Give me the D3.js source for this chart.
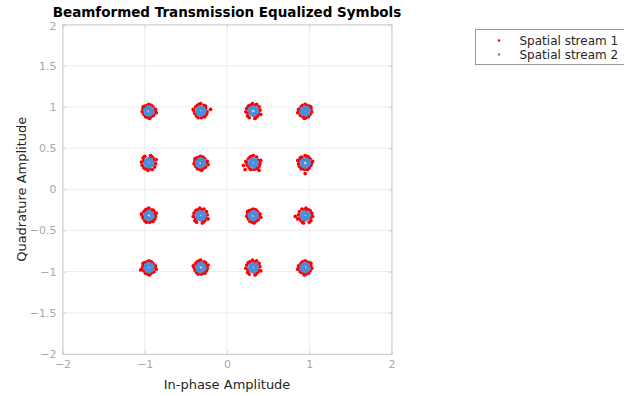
<!DOCTYPE html>
<html>
<head>
<meta charset="utf-8">
<script src="https://cdn.jsdelivr.net/npm/d3@7"></script>
<style>
  html, body { margin: 0; padding: 0; background: #fff; }
  svg { display: block; font-family: "DejaVu Sans", sans-serif; }
</style>
</head>
<body>
<svg id="chart" width="624" height="396"></svg>
<script>
// Equalized 16-QAM symbols, [in-phase, quadrature], per spatial stream
const stream1 = [
  // (-0.95, 0.95)
  [-1.02,0.97],[-0.88,0.95],[-0.95,1.03],[-0.96,0.87],[-1.01,0.91],[-0.90,1.00],[-0.89,0.90],[-1.00,1.01],[-0.93,0.88],[-0.97,1.02],
  [-1.03,0.94],[-0.87,0.97],[-0.92,1.02],[-0.99,0.88],[-0.86,0.93],[-1.02,1.00],[-0.94,0.86],[-0.91,0.89],[-0.98,0.99],[-0.93,0.96],
  // (-0.32, 0.95)
  [-0.40,0.95],[-0.26,0.98],[-0.31,0.87],[-0.34,1.03],[-0.25,0.91],[-0.37,0.89],[-0.28,1.02],[-0.38,1.00],[-0.24,0.94],[-0.29,0.89],
  [-0.35,0.87],[-0.32,1.04],[-0.39,0.92],[-0.27,0.88],[-0.20,0.97],[-0.36,1.02],[-0.26,1.01],[-0.41,0.97],[-0.30,0.99],[-0.33,0.92],
  // (0.32, 0.95)
  [0.26,0.92],[0.39,1.00],[0.31,1.04],[0.35,0.87],[0.24,0.98],[0.38,0.92],[0.28,1.02],[0.37,0.89],[0.25,0.89],[0.33,1.02],
  [0.40,0.96],[0.27,0.87],[0.36,1.03],[0.23,0.94],[0.34,0.86],[0.30,1.00],[0.41,0.91],[0.26,1.01],[0.32,0.90],[0.35,0.98],
  // (0.95, 0.95)
  [1.02,0.97],[0.88,0.95],[0.95,1.03],[0.96,0.87],[1.01,0.91],[0.90,1.00],[0.89,0.90],[1.00,1.01],[0.93,0.88],[0.97,1.02],
  [1.03,0.94],[0.87,0.97],[0.92,1.02],[0.99,0.88],[0.86,0.93],[1.02,1.00],[0.94,0.86],[0.91,0.89],[0.98,0.99],[0.93,0.96],
  // (-0.95, 0.32)
  [-1.01,0.35],[-0.88,0.27],[-0.96,0.23],[-0.92,0.40],[-1.03,0.29],[-0.89,0.35],[-0.99,0.25],[-0.90,0.38],[-1.02,0.38],[-0.94,0.25],
  [-0.87,0.31],[-1.00,0.40],[-0.91,0.24],[-1.04,0.33],[-0.93,0.41],[-0.97,0.27],[-0.86,0.36],[-1.01,0.26],[-0.95,0.37],[-0.92,0.29],
  // (-0.32, 0.32)
  [-0.39,0.34],[-0.25,0.32],[-0.32,0.40],[-0.33,0.24],[-0.38,0.28],[-0.27,0.37],[-0.26,0.27],[-0.37,0.38],[-0.30,0.25],[-0.34,0.39],
  [-0.40,0.31],[-0.24,0.34],[-0.29,0.39],[-0.36,0.25],[-0.23,0.30],[-0.39,0.37],[-0.31,0.23],[-0.28,0.26],[-0.35,0.36],[-0.30,0.33],
  // (0.32, 0.32)
  [0.24,0.32],[0.38,0.35],[0.33,0.24],[0.30,0.40],[0.39,0.28],[0.27,0.26],[0.36,0.39],[0.26,0.37],[0.40,0.31],[0.35,0.26],
  [0.29,0.24],[0.32,0.41],[0.25,0.29],[0.37,0.25],[0.41,0.35],[0.28,0.39],[0.20,0.29],[0.22,0.24],[0.39,0.23],[0.23,0.34],
  // (0.95, 0.32)
  [1.03,0.32],[0.89,0.35],[0.94,0.24],[0.97,0.40],[0.88,0.28],[1.00,0.26],[0.91,0.39],[1.01,0.37],[0.87,0.31],[0.92,0.26],
  [0.98,0.24],[0.95,0.41],[1.02,0.29],[0.90,0.25],[0.86,0.35],[0.99,0.39],[0.89,0.38],[1.04,0.34],[0.93,0.36],[0.95,0.19],
  // (-0.95, -0.32)
  [-1.03,-0.32],[-0.89,-0.29],[-0.94,-0.40],[-0.97,-0.24],[-0.88,-0.36],[-1.00,-0.38],[-0.91,-0.25],[-1.01,-0.27],[-0.87,-0.33],[-0.92,-0.38],
  [-0.98,-0.40],[-0.95,-0.23],[-1.02,-0.35],[-0.90,-0.39],[-0.86,-0.29],[-0.99,-0.25],[-0.89,-0.26],[-1.04,-0.30],[-0.93,-0.28],[-0.96,-0.35],
  // (-0.32, -0.32)
  [-0.38,-0.35],[-0.25,-0.27],[-0.33,-0.23],[-0.29,-0.40],[-0.40,-0.29],[-0.26,-0.35],[-0.36,-0.25],[-0.27,-0.38],[-0.39,-0.38],[-0.31,-0.25],
  [-0.24,-0.31],[-0.37,-0.40],[-0.28,-0.24],[-0.41,-0.33],[-0.30,-0.41],[-0.34,-0.27],[-0.23,-0.36],[-0.38,-0.26],[-0.32,-0.37],[-0.29,-0.29],
  // (0.32, -0.32)
  [0.25,-0.30],[0.39,-0.32],[0.32,-0.24],[0.31,-0.40],[0.26,-0.36],[0.37,-0.27],[0.38,-0.37],[0.27,-0.26],[0.34,-0.39],[0.30,-0.25],
  [0.24,-0.33],[0.40,-0.30],[0.35,-0.25],[0.28,-0.39],[0.41,-0.34],[0.25,-0.27],[0.33,-0.41],[0.36,-0.38],[0.29,-0.28],[0.34,-0.31],
  // (0.95, -0.32)
  [1.01,-0.35],[0.88,-0.27],[0.96,-0.23],[0.92,-0.40],[1.03,-0.29],[0.89,-0.35],[0.99,-0.25],[0.90,-0.38],[1.02,-0.38],[0.94,-0.25],
  [0.87,-0.31],[1.00,-0.40],[0.91,-0.24],[1.04,-0.33],[0.93,-0.41],[0.97,-0.27],[0.86,-0.36],[1.01,-0.26],[0.95,-0.37],[0.83,-0.33],
  // (-0.95, -0.95)
  [-1.02,-0.93],[-0.88,-0.95],[-0.95,-0.87],[-0.96,-1.03],[-1.01,-0.99],[-0.90,-0.90],[-0.89,-1.00],[-1.00,-0.89],[-0.93,-1.02],[-0.97,-0.88],
  [-1.03,-0.96],[-0.87,-0.93],[-0.92,-0.88],[-0.99,-1.02],[-0.86,-0.97],[-1.02,-0.90],[-0.94,-1.04],[-0.91,-1.01],[-0.98,-0.91],[-1.05,-0.98],
  // (-0.32, -0.95)
  [-0.40,-0.95],[-0.26,-0.92],[-0.31,-1.03],[-0.34,-0.87],[-0.25,-0.99],[-0.37,-1.01],[-0.28,-0.88],[-0.38,-0.90],[-0.24,-0.96],[-0.29,-1.01],
  [-0.35,-1.03],[-0.32,-0.86],[-0.39,-0.98],[-0.27,-1.02],[-0.23,-0.92],[-0.36,-0.88],[-0.26,-0.89],[-0.41,-0.93],[-0.30,-0.91],[-0.33,-0.98],
  // (0.32, -0.95)
  [0.26,-0.98],[0.39,-0.90],[0.31,-0.86],[0.35,-1.03],[0.24,-0.92],[0.38,-0.98],[0.28,-0.88],[0.37,-1.01],[0.25,-1.01],[0.33,-0.88],
  [0.40,-0.94],[0.27,-1.03],[0.36,-0.87],[0.23,-0.96],[0.34,-1.04],[0.30,-0.90],[0.41,-0.99],[0.26,-0.89],[0.32,-1.00],[0.35,-0.92],
  // (0.95, -0.95)
  [1.02,-0.93],[0.88,-0.95],[0.95,-0.87],[0.96,-1.03],[1.01,-0.99],[0.90,-0.90],[0.89,-1.00],[1.00,-0.89],[0.93,-1.02],[0.97,-0.88],
  [1.03,-0.96],[0.87,-0.93],[0.92,-0.88],[0.99,-1.02],[0.86,-0.97],[1.02,-0.90],[0.94,-1.04],[0.91,-1.01],[0.98,-0.91],[0.93,-0.96]
];

const stream2 = [
  [-0.99,0.92],[-0.97,0.91],[-0.93,0.91],[-0.91,0.93],[-0.91,0.98],[-0.93,0.99],[-0.97,0.99],[-0.99,0.97],
  [-0.98,0.94],[-0.92,0.96],[-0.96,0.98],[-0.94,0.92],[-1.00,0.96],[-0.90,0.94],[-0.95,1.00],[-0.95,0.90],
  [-0.35,0.91],[-0.31,0.90],[-0.28,0.92],[-0.27,0.96],[-0.29,0.99],[-0.33,1.00],[-0.36,0.98],[-0.37,0.94],
  [-0.34,0.93],[-0.30,0.97],[-0.34,0.97],[-0.30,0.93],[-0.32,0.92],[-0.29,0.94],[-0.35,0.96],[-0.31,0.98],
  [0.28,0.92],[0.30,0.91],[0.34,0.91],[0.36,0.93],[0.36,0.98],[0.34,0.99],[0.30,0.99],[0.28,0.97],
  [0.29,0.94],[0.35,0.96],[0.31,0.98],[0.33,0.92],[0.27,0.96],[0.37,0.94],[0.32,1.00],[0.32,0.90],
  [0.92,0.91],[0.96,0.90],[0.99,0.92],[1.00,0.96],[0.98,0.99],[0.94,1.00],[0.91,0.98],[0.90,0.94],
  [0.93,0.93],[0.97,0.97],[0.93,0.97],[0.97,0.93],[0.95,0.92],[0.98,0.94],[0.92,0.96],[0.96,0.98],
  [-0.98,0.28],[-0.94,0.27],[-0.91,0.29],[-0.90,0.33],[-0.92,0.36],[-0.96,0.37],[-0.99,0.35],[-1.00,0.31],
  [-0.97,0.30],[-0.93,0.34],[-0.97,0.34],[-0.93,0.30],[-0.95,0.29],[-0.92,0.31],[-0.98,0.33],[-0.94,0.35],
  [-0.36,0.29],[-0.34,0.28],[-0.30,0.28],[-0.28,0.30],[-0.28,0.35],[-0.30,0.36],[-0.34,0.36],[-0.36,0.34],
  [-0.35,0.31],[-0.29,0.33],[-0.33,0.35],[-0.31,0.29],[-0.37,0.33],[-0.27,0.31],[-0.32,0.37],[-0.32,0.27],
  [0.29,0.28],[0.33,0.27],[0.36,0.29],[0.37,0.33],[0.35,0.36],[0.31,0.37],[0.28,0.35],[0.27,0.31],
  [0.30,0.30],[0.34,0.34],[0.30,0.34],[0.34,0.30],[0.32,0.29],[0.35,0.31],[0.29,0.33],[0.33,0.35],
  [0.91,0.29],[0.93,0.28],[0.97,0.28],[0.99,0.30],[0.99,0.35],[0.97,0.36],[0.93,0.36],[0.91,0.34],
  [0.92,0.31],[0.98,0.33],[0.94,0.35],[0.96,0.29],[0.90,0.33],[1.00,0.31],[0.95,0.37],[0.95,0.27],
  [-0.99,-0.35],[-0.97,-0.36],[-0.93,-0.36],[-0.91,-0.34],[-0.91,-0.29],[-0.93,-0.28],[-0.97,-0.28],[-0.99,-0.30],
  [-0.98,-0.33],[-0.92,-0.31],[-0.96,-0.29],[-0.94,-0.35],[-1.00,-0.31],[-0.90,-0.33],[-0.95,-0.27],[-0.95,-0.37],
  [-0.35,-0.36],[-0.31,-0.37],[-0.28,-0.35],[-0.27,-0.31],[-0.29,-0.28],[-0.33,-0.27],[-0.36,-0.29],[-0.37,-0.33],
  [-0.34,-0.34],[-0.30,-0.30],[-0.34,-0.30],[-0.30,-0.34],[-0.32,-0.35],[-0.29,-0.33],[-0.35,-0.31],[-0.31,-0.29],
  [0.28,-0.35],[0.30,-0.36],[0.34,-0.36],[0.36,-0.34],[0.36,-0.29],[0.34,-0.28],[0.30,-0.28],[0.28,-0.30],
  [0.29,-0.33],[0.35,-0.31],[0.31,-0.29],[0.33,-0.35],[0.27,-0.31],[0.37,-0.33],[0.32,-0.27],[0.32,-0.37],
  [0.92,-0.36],[0.96,-0.37],[0.99,-0.35],[1.00,-0.31],[0.98,-0.28],[0.94,-0.27],[0.91,-0.29],[0.90,-0.33],
  [0.93,-0.34],[0.97,-0.30],[0.93,-0.30],[0.97,-0.34],[0.95,-0.35],[0.98,-0.33],[0.92,-0.31],[0.96,-0.29],
  [-0.98,-0.99],[-0.94,-1.00],[-0.91,-0.98],[-0.90,-0.94],[-0.92,-0.91],[-0.96,-0.90],[-0.99,-0.92],[-1.00,-0.96],
  [-0.97,-0.97],[-0.93,-0.93],[-0.97,-0.93],[-0.93,-0.97],[-0.95,-0.98],[-0.92,-0.96],[-0.98,-0.94],[-0.94,-0.92],
  [-0.36,-0.98],[-0.34,-0.99],[-0.30,-0.99],[-0.28,-0.97],[-0.28,-0.92],[-0.30,-0.91],[-0.34,-0.91],[-0.36,-0.93],
  [-0.35,-0.96],[-0.29,-0.94],[-0.33,-0.92],[-0.31,-0.98],[-0.37,-0.94],[-0.27,-0.96],[-0.32,-0.90],[-0.32,-1.00],
  [0.29,-0.99],[0.33,-1.00],[0.36,-0.98],[0.37,-0.94],[0.35,-0.91],[0.31,-0.90],[0.28,-0.92],[0.27,-0.96],
  [0.30,-0.97],[0.34,-0.93],[0.30,-0.93],[0.34,-0.97],[0.32,-0.98],[0.35,-0.96],[0.29,-0.94],[0.33,-0.92],
  [0.91,-0.98],[0.93,-0.99],[0.97,-0.99],[0.99,-0.97],[0.99,-0.92],[0.97,-0.91],[0.93,-0.91],[0.91,-0.93],
  [0.92,-0.96],[0.98,-0.94],[0.94,-0.92],[0.96,-0.98],[0.90,-0.94],[1.00,-0.96],[0.95,-0.90],[0.95,-1.00]
];

const seriesNames = ["Spatial stream 1", "Spatial stream 2"];
const seriesColors = ["#ff0000", "#4a8fdc"];
const xTicks = [-2, -1, 0, 1, 2];
const yTicks = [-2, -1.5, -1, -0.5, 0, 0.5, 1, 1.5, 2];
const titleText = "Beamformed Transmission Equalized Symbols";
const xLabel = "In-phase Amplitude";
const yLabel = "Quadrature Amplitude";

const svg = d3.select("#chart");
const plot = { left: 62.5, right: 391.5, top: 24.5, bottom: 354 };

const x = d3.scaleLinear().domain([-2, 2]).range([plot.left, plot.right]);
const y = d3.scaleLinear().domain([-2, 2]).range([plot.bottom, plot.top]);

const tickColor = "#a8a8a8";
const gridColor = "#ececec";
const boxColor = "#cdcdcd";

// grid
const grid = svg.append("g");
grid.selectAll("line.gx").data(xTicks).join("line")
  .attr("x1", d => x(d)).attr("x2", d => x(d))
  .attr("y1", plot.top).attr("y2", plot.bottom)
  .attr("stroke", gridColor).attr("stroke-width", 1);
grid.selectAll("line.gy").data(yTicks).join("line")
  .attr("y1", d => y(d)).attr("y2", d => y(d))
  .attr("x1", plot.left).attr("x2", plot.right)
  .attr("stroke", gridColor).attr("stroke-width", 1);

// points: stream 1 underneath, stream 2 on top
const pts = svg.append("g");
[stream1, stream2].forEach((data, i) => {
  pts.append("g").selectAll("circle").data(data).join("circle")
    .attr("cx", d => x(d[0])).attr("cy", d => y(d[1]))
    .attr("r", 1.85)
    .attr("fill", seriesColors[i]);
});

// axes
const xAxis = svg.append("g")
  .attr("transform", `translate(0,${plot.bottom})`)
  .call(d3.axisBottom(x).tickValues(xTicks).tickSize(-3).tickPadding(6).tickFormat(d3.format("")));
const yAxis = svg.append("g")
  .attr("transform", `translate(${plot.left},0)`)
  .call(d3.axisLeft(y).tickValues(yTicks).tickSize(-3).tickPadding(6).tickFormat(d3.format("")));
const xAxisTop = svg.append("g")
  .attr("transform", `translate(0,${plot.top})`)
  .call(d3.axisTop(x).tickValues(xTicks).tickSize(-3).tickFormat(""));
const yAxisRight = svg.append("g")
  .attr("transform", `translate(${plot.right},0)`)
  .call(d3.axisRight(y).tickValues(yTicks).tickSize(-3).tickFormat(""));

[xAxis, yAxis, xAxisTop, yAxisRight].forEach(a => {
  a.select(".domain").attr("stroke", boxColor);
  a.selectAll(".tick line").attr("stroke", boxColor);
  a.selectAll(".tick text")
    .attr("fill", tickColor)
    .style("font-family", "DejaVu Sans, sans-serif")
    .style("font-size", "11px");
});
// the top y label sits just under the title
yAxis.selectAll(".tick text").filter(d => d === 2).attr("dy", "0.45em");

// title and axis labels
svg.append("text")
  .attr("x", (plot.left + plot.right) / 2).attr("y", 17)
  .attr("text-anchor", "middle")
  .style("font-weight", "bold").style("font-size", "13.5px")
  .attr("fill", "#000")
  .text(titleText);

svg.append("text")
  .attr("x", (plot.left + plot.right) / 2).attr("y", 389)
  .attr("text-anchor", "middle")
  .style("font-size", "13px")
  .attr("fill", "#262626")
  .text(xLabel);

svg.append("text")
  .attr("transform", `translate(26,${(plot.top + plot.bottom) / 2}) rotate(-90)`)
  .attr("text-anchor", "middle")
  .style("font-size", "13px")
  .attr("fill", "#262626")
  .text(yLabel);

// legend
const legend = svg.append("g").attr("transform", "translate(475.5,29.5)");
legend.append("rect")
  .attr("width", 152).attr("height", 35)
  .attr("fill", "#fff").attr("stroke", "#9a9a9a").attr("stroke-width", 1);
seriesNames.forEach((name, i) => {
  const row = legend.append("g").attr("transform", `translate(0,${11 + i * 14})`);
  row.append("circle").attr("cx", 23.5).attr("cy", 0).attr("r", 1.3).attr("fill", seriesColors[i]);
  row.append("text").attr("x", 44).attr("y", 0).attr("dy", "0.35em")
    .style("font-size", "12px").attr("fill", "#262626").text(name);
});
</script>
</body>
</html>
